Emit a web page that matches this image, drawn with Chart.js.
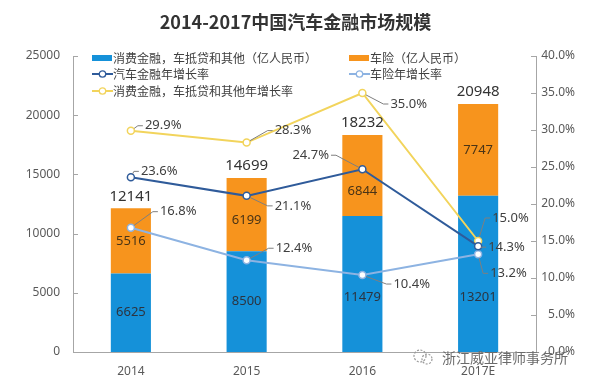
<!DOCTYPE html>
<html><head><meta charset="utf-8">
<script src="https://cdn.jsdelivr.net/npm/chart.js@4.4.0/dist/chart.umd.min.js"></script>
<style>
html,body{margin:0;padding:0;background:#fff;}
#wrap{position:relative;width:591px;height:382px;overflow:hidden;font-family:"Noto Sans CJK SC","Noto Sans",sans-serif;}
canvas{position:absolute;left:0;top:0;}
.t{position:absolute;white-space:nowrap;line-height:16px;color:#404040;font-size:12px;}
.sw{position:absolute;}
</style></head><body>
<div id="wrap">
<canvas id="c" width="591" height="382"></canvas>
<div class="t" style="left:0;width:591px;top:10px;text-align:center;font-size:18px;font-weight:bold;line-height:22px;color:#333;">2014-2017中国汽车金融市场规模</div>
<div class="sw" style="left:92px;top:55px;width:20px;height:6px;background:#1591d9;"></div>
<div class="t" style="left:113px;top:50px;">消费金融，车抵贷和其他（亿人民币）</div>
<div class="sw" style="left:349px;top:55px;width:20px;height:6px;background:#f7941d;"></div>
<div class="t" style="left:370px;top:50px;">车险（亿人民币）</div>
<svg class="sw" style="left:92px;top:69px;" width="21" height="10"><line x1="0" y1="5" x2="21" y2="5" stroke="#2f5b9a" stroke-width="2"/><circle cx="10.5" cy="5" r="3.2" fill="#fff" stroke="#2f5b9a" stroke-width="1.3"/></svg>
<div class="t" style="left:113px;top:66px;">汽车金融年增长率</div>
<svg class="sw" style="left:349px;top:69px;" width="21" height="10"><line x1="0" y1="5" x2="21" y2="5" stroke="#8db3e2" stroke-width="2"/><circle cx="10.5" cy="5" r="3.2" fill="#fff" stroke="#8db3e2" stroke-width="1.3"/></svg>
<div class="t" style="left:370px;top:66px;">车险年增长率</div>
<svg class="sw" style="left:92px;top:86px;" width="21" height="10"><line x1="0" y1="5" x2="21" y2="5" stroke="#f2d45c" stroke-width="2"/><circle cx="10.5" cy="5" r="3.2" fill="#fff" stroke="#f2d45c" stroke-width="1.3"/></svg>
<div class="t" style="left:113px;top:83px;">消费金融，车抵贷和其他年增长率</div>
</div>
<div id="wm" style="position:absolute;left:410px;top:348px;white-space:nowrap;font-family:'Noto Sans CJK SC',sans-serif;font-size:14px;line-height:18px;color:#6b6b6b;">
<svg width="26" height="18" style="vertical-align:top;"><circle cx="10" cy="8" r="6" fill="none" stroke="#9a9a9a" stroke-width="1.2" stroke-dasharray="2 1.5"/><circle cx="17" cy="11" r="5" fill="none" stroke="#9a9a9a" stroke-width="1.2" stroke-dasharray="2 1.5"/></svg><span style="margin-left:6px;">浙江威亚律师事务所</span>
</div>
<script>
const categories = ['2014', '2015', '2016', '2017E'];
const consumerFinance = [6625, 8500, 11479, 13201];
const insurance = [5516, 6199, 6844, 7747];
const totals = [12141, 14699, 18232, 20948];
const autoFinanceGrowth = [23.6, 21.1, 24.7, 14.3];
const insuranceGrowth = [16.8, 12.4, 10.4, 13.2];
const consumerGrowth = [29.9, 28.3, 35.0, 15.0];
const leftTicks = [0, 5000, 10000, 15000, 20000, 25000];
const rightTicks = [0, 5, 10, 15, 20, 25, 30, 35, 40];

// layout: label offsets for line value labels [dx, dy] from point to label left-middle
const labelOffsets = {
  2: [[10,-6],[28,10],[-70,-14],[10,1]],
  3: [[29,-16],[29,-12],[31,9],[12,19]],
  4: [[14,-5],[28,-12],[28,11],[14,-23]]
};
// layout: vertical nudge (px) of orange bar labels
const orangeLabelShift = [0, 6, 16, 0];

Chart.defaults.font.family = '"Noto Sans","Noto Sans CJK SC",sans-serif';
const axisColor = '#a6a6a6';

const labelPlugin = {
  id: 'valueLabels',
  afterDatasetsDraw(chart) {
    const ctx = chart.ctx;
    ctx.save();
    ctx.textAlign = 'center';
    ctx.textBaseline = 'middle';
    const mb = chart.getDatasetMeta(0), mo = chart.getDatasetMeta(1);
    ctx.font = '13px "Noto Sans"';
    ctx.fillStyle = '#2c3440';
    mb.data.forEach((b, i) => {
      const h = b.base - b.y;
      ctx.fillText(String(consumerFinance[i]), b.x, b.base - Math.min(h / 2, 55));
    });
    ctx.fillStyle = '#4a3416';
    mo.data.forEach((b, i) => {
      ctx.fillText(String(insurance[i]), b.x, (b.y + b.base) / 2 + orangeLabelShift[i]);
    });
    ctx.font = '15px "Noto Sans"';
    ctx.fillStyle = '#333';
    mo.data.forEach((b, i) => ctx.fillText(String(totals[i]), b.x, b.y - 12));

    const series = {2: autoFinanceGrowth, 3: insuranceGrowth, 4: consumerGrowth};
    ctx.font = '13px "Noto Sans"';
    Object.keys(series).forEach(k => {
      const meta = chart.getDatasetMeta(+k);
      meta.data.forEach((p, i) => {
        const [dx, dy] = labelOffsets[k][i];
        const txt = series[k][i].toFixed(1) + '%';
        const w = ctx.measureText(txt).width;
        const lx = p.x + dx, ly = p.y + dy;
        let ax, bx;
        if (dx >= 0) { ax = lx - 2; bx = ax - 5; }
        else { ax = lx + w + 2; bx = ax + 5; }
        ctx.strokeStyle = '#7f7f7f';
        ctx.lineWidth = 1;
        ctx.beginPath();
        const ang = Math.atan2(ly - p.y, bx - p.x);
        ctx.moveTo(p.x + Math.cos(ang) * 4, p.y + Math.sin(ang) * 4);
        ctx.lineTo(bx, ly);
        ctx.lineTo(ax, ly);
        ctx.stroke();
        ctx.fillStyle = '#404040';
        ctx.textAlign = 'left';
        ctx.fillText(txt, lx, ly);
      });
    });
    ctx.restore();
  },
  afterDraw(chart) {
    const ctx = chart.ctx, a = chart.chartArea;
    ctx.save();
    ctx.strokeStyle = axisColor;
    ctx.lineWidth = 1;
    chart.scales.y.ticks.forEach(t => {
      const y = Math.round(chart.scales.y.getPixelForValue(t.value)) + 0.5;
      ctx.beginPath(); ctx.moveTo(a.left, y); ctx.lineTo(a.left + 5, y); ctx.stroke();
    });
    chart.scales.y1.ticks.forEach(t => {
      const y = Math.round(chart.scales.y1.getPixelForValue(t.value)) + 0.5;
      ctx.beginPath(); ctx.moveTo(a.right - 5, y); ctx.lineTo(a.right, y); ctx.stroke();
    });
    ctx.restore();
  }
};

const lineDs = (label, data, color) => ({
  type: 'line', label, data, yAxisID: 'y1', order: 0,
  borderColor: color, borderWidth: 2, backgroundColor: '#fff',
  pointRadius: 3.5, pointBorderWidth: 1.5, pointBorderColor: color, pointBackgroundColor: '#fff',
  tension: 0, fill: false
});

new Chart(document.getElementById('c'), {
  data: {
    labels: categories,
    datasets: [
      {type: 'bar', label: '消费金融，车抵贷和其他（亿人民币）', data: consumerFinance, backgroundColor: '#1591d9', stack: 's', order: 2, barPercentage: 0.7, categoryPercentage: 0.495},
      {type: 'bar', label: '车险（亿人民币）', data: insurance, backgroundColor: '#f7941d', stack: 's', order: 2, barPercentage: 0.7, categoryPercentage: 0.495},
      lineDs('汽车金融年增长率', autoFinanceGrowth, '#2f5b9a'),
      lineDs('车险年增长率', insuranceGrowth, '#8db3e2'),
      lineDs('消费金融，车抵贷和其他年增长率', consumerGrowth, '#f2d45c')
    ]
  },
  options: {
    responsive: false,
    animation: false,
    layout: {padding: {top: 56, right: 16, left: 0, bottom: 0}},
    plugins: {legend: {display: false}, title: {display: false}, tooltip: {enabled: false}},
    scales: {
      x: {
        stacked: true,
        grid: {display: false, drawTicks: false},
        border: {display: true, color: axisColor},
        ticks: {color: '#595959', font: {size: 12}, padding: 12},
        afterFit(s) { s.height = 30; }
      },
      y: {
        stacked: true, position: 'left', min: 0, max: 25000,
        afterBuildTicks(s) { s.ticks = leftTicks.map(v => ({value: v})); },
        ticks: {color: '#595959', font: {size: 12}, padding: 13, callback: v => String(v)},
        grid: {display: false, drawTicks: false},
        border: {display: true, color: axisColor},
        afterFit(s) { s.width = 73; }
      },
      y1: {
        position: 'right', min: 0, max: 40,
        afterBuildTicks(s) { s.ticks = rightTicks.map(v => ({value: v})); },
        ticks: {color: '#595959', font: {size: 12}, padding: 8, crossAlign: 'far', callback: v => Number(v).toFixed(1) + '%'},
        grid: {display: false, drawTicks: false},
        border: {display: true, color: axisColor},
        afterFit(s) { s.width = 39; }
      }
    }
  },
  plugins: [labelPlugin]
});
</script>
</body></html>
